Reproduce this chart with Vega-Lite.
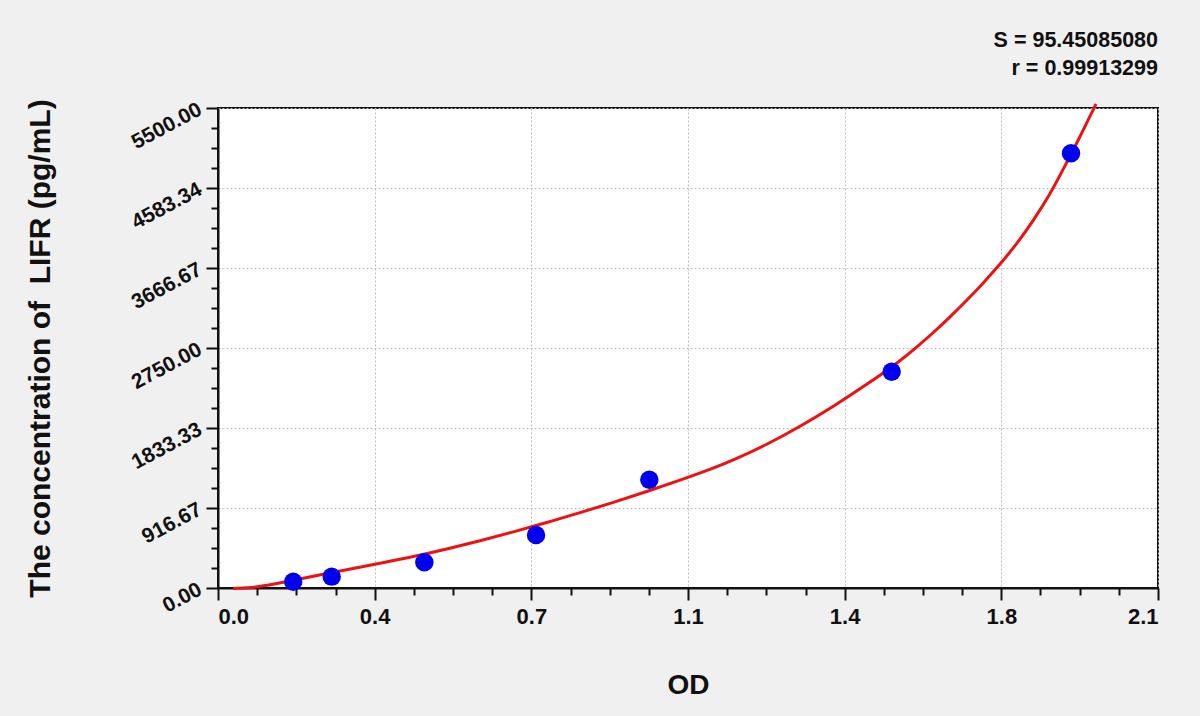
{
  "$schema": "https://vega.github.io/schema/vega-lite/v6.json",
  "width": 940,
  "height": 480,
  "autosize": "none",
  "padding": {"left": 218, "top": 108, "right": 42, "bottom": 128},
  "background": "#f0f0f0",
  "title": {
    "text": "S = 95.45085080",
    "subtitle": "r = 0.99913299",
    "anchor": "end",
    "frame": "group",
    "font": "Liberation Sans",
    "fontSize": 21.5,
    "fontWeight": "bold",
    "color": "#111111",
    "subtitleFont": "Liberation Sans",
    "subtitleFontSize": 21.5,
    "subtitleFontWeight": "bold",
    "subtitleColor": "#111111",
    "subtitlePadding": 7,
    "offset": 18
  },
  "datasets": {
    "curve": [
      {"od": 0.034, "conc": -5},
      {"od": 0.0887, "conc": 8},
      {"od": 0.1385, "conc": 58},
      {"od": 0.2129, "conc": 135},
      {"od": 0.2875, "conc": 210},
      {"od": 0.362, "conc": 283},
      {"od": 0.4363, "conc": 358},
      {"od": 0.511, "conc": 446},
      {"od": 0.5853, "conc": 541},
      {"od": 0.6597, "conc": 642},
      {"od": 0.7344, "conc": 750},
      {"od": 0.8088, "conc": 862},
      {"od": 0.8832, "conc": 980},
      {"od": 0.9578, "conc": 1105},
      {"od": 1.0322, "conc": 1235},
      {"od": 1.1067, "conc": 1372},
      {"od": 1.1513, "conc": 1465},
      {"od": 1.2259, "conc": 1642},
      {"od": 1.3003, "conc": 1850},
      {"od": 1.3747, "conc": 2080},
      {"od": 1.4493, "conc": 2330},
      {"od": 1.5237, "conc": 2600},
      {"od": 1.5609, "conc": 2760},
      {"od": 1.5981, "conc": 2925},
      {"od": 1.6354, "conc": 3105},
      {"od": 1.6727, "conc": 3295},
      {"od": 1.7098, "conc": 3495},
      {"od": 1.7455, "conc": 3700},
      {"od": 1.7844, "conc": 3940},
      {"od": 1.8215, "conc": 4210},
      {"od": 1.8588, "conc": 4510},
      {"od": 1.8885, "conc": 4800},
      {"od": 1.9258, "conc": 5170},
      {"od": 1.9616, "conc": 5546}
    ],
    "standards": [
      {"od": 0.168, "conc": 72},
      {"od": 0.254, "conc": 130},
      {"od": 0.461, "conc": 294},
      {"od": 0.7105, "conc": 607},
      {"od": 0.9636, "conc": 1240},
      {"od": 1.505, "conc": 2478},
      {"od": 1.9057, "conc": 4981}
    ]
  },
  "layer": [
    {
      "data": {"name": "curve"},
      "mark": {"type": "line", "color": "#ee1111", "strokeWidth": 3, "interpolate": "basis"},
      "encoding": {
        "x": {
          "field": "od",
          "type": "quantitative",
          "scale": {"domain": [0, 2.1], "nice": false, "zero": false},
          "axis": {
            "orient": "bottom",
            "values": [0, 0.35, 0.7, 1.05, 1.4, 1.75, 2.1],
            "labelExpr": "format(datum.value + 0.0001, '.1f')",
            "title": "OD",
            "titleFontSize": 28,
            "titlePadding": 44,
            "tickSize": 12,
            "labelPadding": 6,
            "labelFontSize": 22
          }
        },
        "y": {
          "field": "conc",
          "type": "quantitative",
          "scale": {"domain": [0, 5500], "nice": false, "zero": false},
          "axis": {
            "orient": "left",
            "values": [0, 916.67, 1833.33, 2750, 3666.67, 4583.34, 5500],
            "format": ".2f",
            "title": "The concentration of\u00a0 LIFR (pg/mL)",
            "titleFontSize": 30,
            "titlePadding": 72,
            "tickSize": 12,
            "labelAngle": -28,
            "labelAlign": "right",
            "labelBaseline": "middle",
            "labelPadding": 6,
            "labelFontSize": 21
          }
        }
      }
    },
    {
      "data": {"name": "standards"},
      "mark": {"type": "circle", "color": "#0000ee", "opacity": 1, "size": 340},
      "encoding": {
        "x": {
          "field": "od",
          "type": "quantitative",
          "axis": {
            "orient": "bottom",
            "values": [0.0875, 0.175, 0.2625, 0.4375, 0.525, 0.6125, 0.7875, 0.875, 0.9625, 1.1375, 1.225, 1.3125, 1.4875, 1.575, 1.6625, 1.8375, 1.925, 2.0125],
            "labels": false,
            "grid": false,
            "domain": false,
            "tickSize": 7,
            "title": null
          }
        },
        "y": {
          "field": "conc",
          "type": "quantitative",
          "axis": {
            "orient": "left",
            "values": [229.17, 458.33, 687.5, 1145.83, 1375, 1604.17, 2062.5, 2291.67, 2520.83, 2979.17, 3208.33, 3437.5, 3895.83, 4125, 4354.17, 4812.5, 5041.67, 5270.83],
            "labels": false,
            "grid": false,
            "domain": false,
            "tickSize": 7,
            "title": null
          }
        }
      }
    }
  ],
  "resolve": {"axis": {"x": "independent", "y": "independent"}},
  "config": {
    "view": {"fill": "#ffffff", "stroke": "#111111", "strokeWidth": 2},
    "axis": {
      "font": "Liberation Sans",
      "labelFont": "Liberation Sans",
      "titleFont": "Liberation Sans",
      "labelFontWeight": "bold",
      "titleFontWeight": "bold",
      "labelColor": "#111111",
      "titleColor": "#111111",
      "tickColor": "#111111",
      "tickWidth": 2,
      "domainColor": "#111111",
      "domainWidth": 2,
      "grid": true,
      "gridColor": "#bbbbbb",
      "gridDash": [2, 2],
      "gridWidth": 1
    }
  }
}
